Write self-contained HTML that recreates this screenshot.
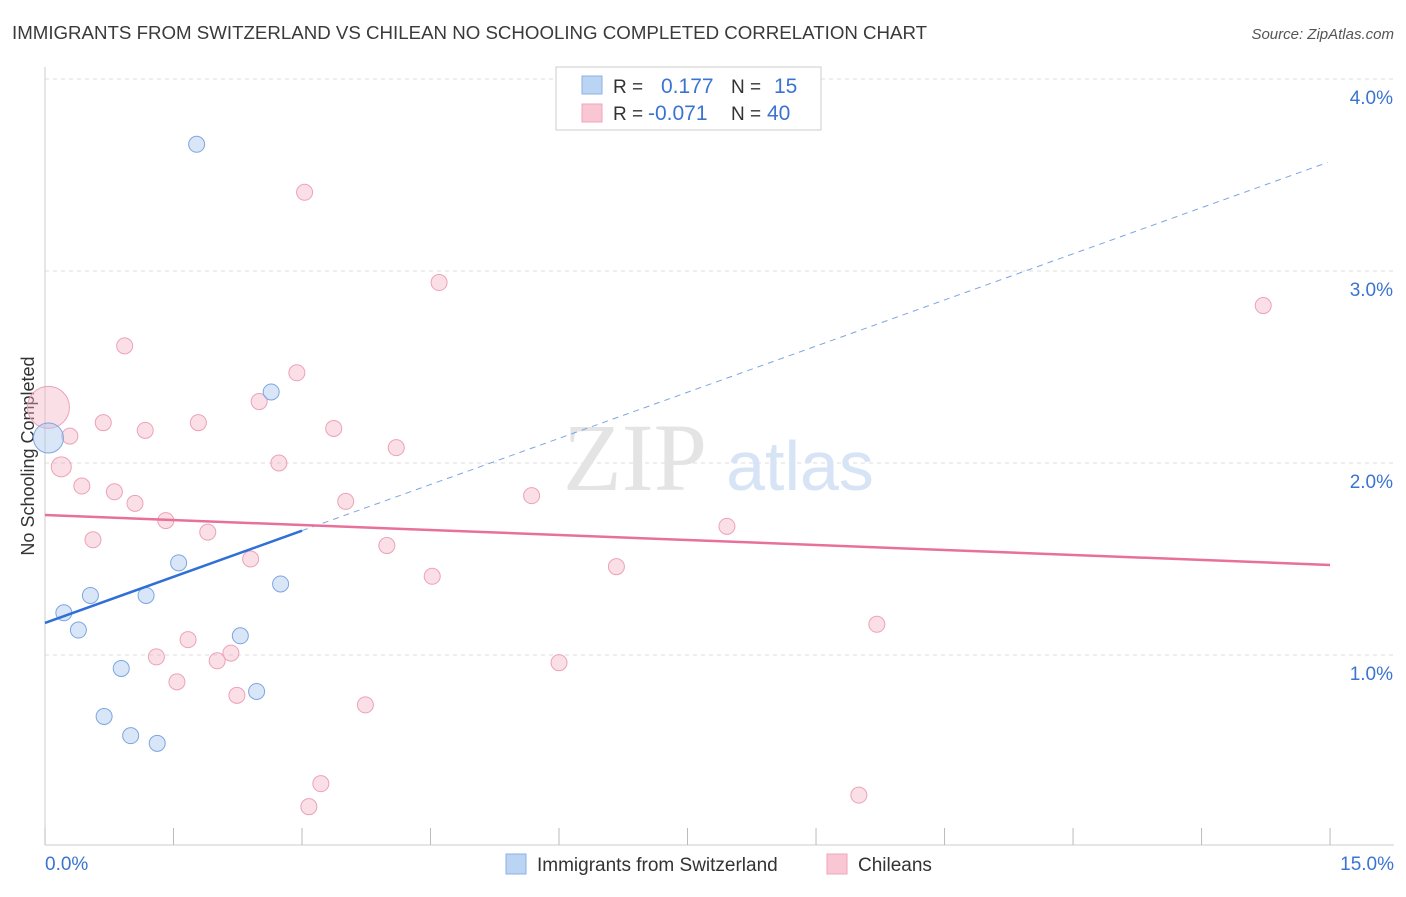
<!DOCTYPE html>
<html><head><meta charset="utf-8"><style>
body{margin:0;background:#fff;font-family:"Liberation Sans",sans-serif;}
</style></head><body>
<svg width="1406" height="892" xmlns="http://www.w3.org/2000/svg" style="font-family:'Liberation Sans',sans-serif">
<text x="12" y="39" font-size="18.7" fill="#3a3a3a">IMMIGRANTS FROM SWITZERLAND VS CHILEAN NO SCHOOLING COMPLETED CORRELATION CHART</text>
<text x="1394" y="39" font-size="15" fill="#555" font-style="italic" text-anchor="end">Source: ZipAtlas.com</text>
<g id="grid"></g>
<text x="635" y="490" font-size="96" fill="#e4e4e4" font-family="Liberation Serif" text-anchor="middle">ZIP</text>
<text x="800" y="490" font-size="70" fill="#d6e4f6" text-anchor="middle">atlas</text>
<text transform="translate(34,456) rotate(-90)" font-size="18" fill="#333" text-anchor="middle">No Schooling Completed</text>
<g id="marks"></g>
<g>
<rect x="556" y="67" width="265" height="63" fill="#fff" stroke="#ccc"/>
<rect x="582" y="76" width="20" height="18" fill="#bcd4f4" stroke="#8ab0e4"/>
<rect x="582" y="104" width="20" height="18" fill="#f9c6d4" stroke="#eea5bb"/>
<text x="613" y="93" font-size="19" fill="#333">R =</text>
<text x="661" y="93" font-size="21" fill="#3b74d0">0.177</text>
<text x="731" y="93" font-size="19" fill="#333">N =</text>
<text x="774" y="93" font-size="21" fill="#3b74d0">15</text>
<text x="613" y="120" font-size="19" fill="#333">R =</text>
<text x="648" y="120" font-size="21" fill="#3b74d0">-0.071</text>
<text x="731" y="120" font-size="19" fill="#333">N =</text>
<text x="767" y="120" font-size="21" fill="#3b74d0">40</text>
</g>
<g>
<rect x="506" y="854" width="20" height="20" fill="#bcd4f4" stroke="#8ab0e4"/>
<text x="537" y="871" font-size="19" fill="#333">Immigrants from Switzerland</text>
<rect x="827" y="854" width="20" height="20" fill="#f9c6d4" stroke="#eea5bb"/>
<text x="858" y="871" font-size="19" fill="#333">Chileans</text>
</g>
</svg>
<script>
const yTicks=[1,2,3,4];
const yTickLabels=["1.0%","2.0%","3.0%","4.0%"];
const xTicks=[0,1.5,3,4.5,6,7.5,9,10.5,12,13.5,15];
const blueX=[1.77,2.64,0.04,1.56,0.53,1.18,0.22,0.39,2.75,2.28,0.89,2.47,0.69,1.00,1.31];
const blueY=[3.66,2.37,2.13,1.48,1.31,1.31,1.22,1.13,1.37,1.10,0.93,0.81,0.68,0.58,0.54];
const blueR=[8,8,15,8,8,8,8,8,8,8,8,8,8,8,8];
const pinkX=[3.03,4.60,14.22,0.93,2.94,2.50,0.04,0.68,1.79,1.17,3.37,0.29,4.10,2.73,0.19,0.43,0.81,3.51,5.68,1.05,1.41,7.96,1.90,0.56,3.99,2.40,6.67,4.52,9.71,1.67,1.30,2.17,2.01,6.00,1.54,2.24,3.74,3.22,3.08,9.50];
const pinkY=[3.41,2.94,2.82,2.61,2.47,2.32,2.29,2.21,2.21,2.17,2.18,2.14,2.08,2.00,1.98,1.88,1.85,1.80,1.83,1.79,1.70,1.67,1.64,1.60,1.57,1.50,1.46,1.41,1.16,1.08,0.99,1.01,0.97,0.96,0.86,0.79,0.74,0.33,0.21,0.27];
const pinkR=[8,8,8,8,8,8,21,8,8,8,8,8,8,8,10,8,8,8,8,8,8,8,8,8,8,8,8,8,8,8,8,8,8,8,8,8,8,8,8,8];
const blueTrend=[1.167,3.57];
const pinkTrend=[1.729,1.469];
const NS="http://www.w3.org/2000/svg";
const sx=v=>45+v*85.67, sy=v=>847-v*192;
function mk(t,a,p){const e=document.createElementNS(NS,t);for(const k in a)e.setAttribute(k,a[k]);p.appendChild(e);return e;}
const g=document.getElementById('grid'), m=document.getElementById('marks');
yTicks.forEach((v,i)=>{
 const l=mk('line',{x1:45,x2:1394,y1:sy(v),y2:sy(v),stroke:'#ddd','stroke-dasharray':'4,4'},g);
 
 
 const t=mk('text',{x:1393,y:sy(v)+25,'font-size':19,fill:'#3b74d0','text-anchor':'end'},g);
 t.textContent=yTickLabels[i];
 
 
});
const ax=mk('line',{x1:45,x2:45,y1:67,y2:845,stroke:'#ccc'},g);


const bx=mk('line',{x1:45,x2:1394,y1:845,y2:845,stroke:'#ccc'},g);


xTicks.forEach(v=>{const l=mk('line',{x1:sx(v),x2:sx(v),y1:828,y2:845,stroke:'#bbb'},g);
 
 });
const x0=mk('text',{x:45,y:870,'font-size':19,fill:'#3b74d0'},g);x0.textContent=xTicks[0].toFixed(1)+'%';


const x1=mk('text',{x:1394,y:870,'font-size':19,fill:'#3b74d0','text-anchor':'end'},g);x1.textContent=xTicks[xTicks.length-1].toFixed(1)+'%';


pinkX.forEach((v,i)=>{const c=mk('circle',{cx:sx(v),cy:sy(pinkY[i]),r:pinkR[i],fill:'rgba(245,176,196,0.4)',stroke:'#eca2b8','stroke-width':1},m);
 
 });
blueX.forEach((v,i)=>{const c=mk('circle',{cx:sx(v),cy:sy(blueY[i]),r:blueR[i],fill:'rgba(170,200,240,0.45)',stroke:'#7ca6e0','stroke-width':1},m);
 
 });
const bAt=x=>blueTrend[0]+(blueTrend[1]-blueTrend[0])*x/15;
const bs=mk('line',{x1:sx(0),y1:sy(bAt(0)),x2:sx(3),y2:sy(bAt(3)),stroke:'#2f6fd6','stroke-width':2.5},m);


const bd=mk('line',{x1:sx(3),y1:sy(bAt(3)),x2:sx(14.97),y2:sy(bAt(14.97)),stroke:'#7ca6e0','stroke-width':1,'stroke-dasharray':'6,5'},m);


const pl=mk('line',{x1:sx(0),y1:sy(pinkTrend[0]),x2:sx(15),y2:sy(pinkTrend[1]),stroke:'#e8709a','stroke-width':2.5},m);


</script>
</body></html>
